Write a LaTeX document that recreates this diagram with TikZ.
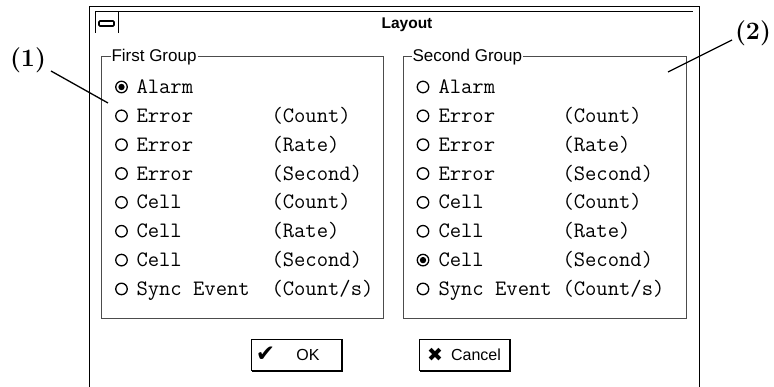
\documentclass[tikz,border=0pt]{standalone}
\usepackage{fontspec}
\newfontfamily\guisans{Liberation Sans}
\newfontfamily\guisym{DejaVu Sans}
\usetikzlibrary{positioning}

\begin{document}
\begin{tikzpicture}[x=1pt, y=-1pt, line width=1pt,
  groupbox/.style={draw=black!70},
  grouplabel/.style={fill=white, inner sep=1pt, anchor=west, font=\guisans\fontsize{17}{17}\selectfont},
  item/.style={anchor=base west, inner sep=0pt, font=\ttfamily\fontsize{22}{22}\selectfont},
  radio/.style={circle, draw, line width=1.3pt, minimum size=11.5pt, inner sep=0pt},
  button/.style={draw, minimum width=91pt, minimum height=31pt, inner sep=0pt},
  callout/.style={font=\bfseries\fontsize{25}{25}\selectfont, inner sep=0pt}]

\useasboundingbox (0,0) rectangle (774,387);

% window frame and title bar
\draw (89,387) -- (89,7) -- (699,7) -- (699,387);
\draw (95,33) -- (95,12) -- (693,12);
\draw (118,12) -- (118,33);
\draw[line width=1.6pt, rounded corners=1pt] (99,21) rectangle (114,26);
\node[font=\guisans\bfseries\fontsize{15.5}{16}\selectfont] (title) at (407,25) {Layout};

% the two groups
\draw[groupbox] (101,57) rectangle (383,319);
\node[grouplabel] (first) at (110,57) {First Group};
\draw[groupbox] (403,57) rectangle (686,319);
\node[grouplabel] (second) at (411,57) {Second Group};

\foreach \a/\b [count=\i from 0] in {Alarm/{}, Error/(Count), Error/(Rate), Error/(Second),
    Cell/(Count), Cell/(Rate), Cell/(Second), {Sync Event}/{(Count/s)}} {
  \pgfmathsetmacro\yy{87+28.85*\i}
  % first group
  \node[radio] (ra\i) at (121.5,\yy) {};
  \node[item] (la\i) at (136,\yy+6.5) {\a};
  \node[item] (ca\i) at (271,\yy+6.5) {\b};
  % second group
  \node[radio] (rb\i) at (423,\yy) {};
  \node[item] (lb\i) at (438,\yy+6.5) {\a};
  \node[item] (cb\i) at (562,\yy+6.5) {\b};
}
\fill (ra0) circle (3.2pt);
\fill (rb6) circle (3.2pt);

% buttons
\node[button] (ok) at (296.5,355.5) {};
\draw[line width=2.2pt] ([xshift=-0.5pt, yshift=-1pt]ok.north east) -- ([xshift=-0.5pt, yshift=0.5pt]ok.south east) -- ([xshift=1pt, yshift=0.5pt]ok.south west);
\node[font=\guisym\fontsize{23}{23}\selectfont, inner sep=0pt] (tick) at (265.5,354) {✔};
\node[font=\guisans\fontsize{16}{16}\selectfont, inner sep=0pt] (oklabel) at (308,355) {OK};

\node[button] (cancel) at (464.5,355.5) {};
\draw[line width=2.2pt] ([xshift=-0.5pt, yshift=-1pt]cancel.north east) -- ([xshift=-0.5pt, yshift=0.5pt]cancel.south east) -- ([xshift=1pt, yshift=0.5pt]cancel.south west);
\node[font=\guisym\fontsize{19}{19}\selectfont, inner sep=0pt] (cross) at (435,355) {✖};
\node[font=\guisans\fontsize{16}{16}\selectfont, inner sep=0pt] (cancellabel) at (476,355) {Cancel};

% callouts
\node[callout] (c1) at (28,60) {(1)};
\coordinate (p1) at (108,103);
\draw[line width=1.3pt] (51,71) -- (p1);
\node[callout] (c2) at (753,33) {(2)};
\coordinate (p2) at (668,72);
\draw[line width=1.3pt] (732,40) -- (p2);

\end{tikzpicture}
\end{document}
